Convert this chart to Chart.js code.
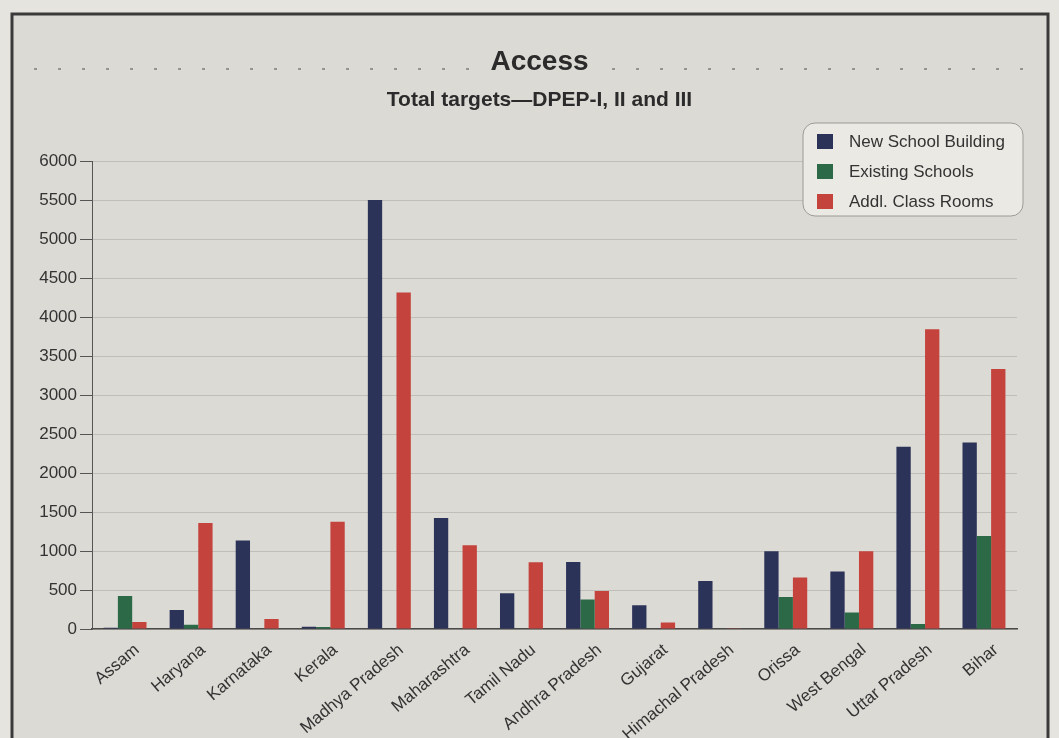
<!DOCTYPE html>
<html>
<head>
<meta charset="utf-8">
<script src="https://cdn.jsdelivr.net/npm/chart.js@4"></script>
<style>
  html, body { margin: 0; padding: 0; background: #e6e4df; }
  #wrap { position: absolute; left: 0; top: 0; width: 1059px; height: 738px; }
</style>
</head>
<body>
<div id="wrap"><canvas id="chart"></canvas></div>
<script>
const categories = ['Assam', 'Haryana', 'Karnataka', 'Kerala', 'Madhya Pradesh', 'Maharashtra', 'Tamil Nadu',
  'Andhra Pradesh', 'Gujarat', 'Himachal Pradesh', 'Orissa', 'West Bengal', 'Uttar Pradesh', 'Bihar'];
const newSchoolBuilding = [15, 245, 1135, 30, 5510, 1425, 460, 860, 305, 615, 1000, 740, 2340, 2395];
const existingSchools = [425, 55, 0, 25, 0, 0, 0, 380, 0, 0, 410, 212, 64, 1195];
const addlClassRooms = [90, 1360, 128, 1378, 4320, 1075, 856, 488, 85, 10, 662, 1000, 3850, 3340];
const seriesNames = ['New School Building', 'Existing Schools', 'Addl. Class Rooms'];
const seriesColors = ['#2c3358', '#2c6a47', '#c4433c'];

const FONT = "'Liberation Sans', Arial, sans-serif";
const canvasElement = document.getElementById('chart');

// frame, dotted rule and background
const framePlugin = {
  id: 'frame',
  beforeDraw(chart) {
    const ctx = chart.ctx;
    ctx.save();
    ctx.fillStyle = '#e6e4df';
    ctx.fillRect(0, 0, chart.width, chart.height);
    ctx.fillStyle = '#dcdad5';
    ctx.fillRect(12, 14, 1036, 740);
    ctx.strokeStyle = '#3a3a3a';
    ctx.lineWidth = 3;
    ctx.strokeRect(12, 14, 1036, 740);
    // dotted rule behind the title
    ctx.strokeStyle = '#7e7c78';
    ctx.lineWidth = 1.5;
    ctx.setLineDash([3, 21]);
    ctx.beginPath();
    ctx.moveTo(34, 69); ctx.lineTo(470, 69);
    ctx.moveTo(612, 69); ctx.lineTo(1040, 69);
    ctx.stroke();
    ctx.restore();
  },
  afterDraw(chart) {
    // legend box inside the plot
    const ctx = chart.ctx;
    ctx.save();
    const x = 803, y = 123, w = 220, h = 93, r = 12;
    ctx.beginPath();
    ctx.roundRect(x, y, w, h, r);
    ctx.fillStyle = '#ebe9e4';
    ctx.fill();
    ctx.strokeStyle = '#9c9a95';
    ctx.lineWidth = 1;
    ctx.stroke();
    ctx.font = '17px ' + FONT;
    ctx.textBaseline = 'middle';
    chart.data.datasets.forEach((ds, i) => {
      const cy = 141 + i * 30;
      ctx.fillStyle = ds.backgroundColor;
      ctx.fillRect(817, cy - 7, 16, 15);
      ctx.fillStyle = '#333';
      ctx.fillText(ds.label, 849, cy + 1);
    });
    ctx.restore();
  }
};

new Chart(canvasElement, {
  type: 'bar',
  data: {
    labels: categories,
    datasets: [
      { label: seriesNames[0], data: newSchoolBuilding, backgroundColor: seriesColors[0] },
      { label: seriesNames[1], data: existingSchools, backgroundColor: seriesColors[1] },
      { label: seriesNames[2], data: addlClassRooms, backgroundColor: seriesColors[2] }
    ]
  },
  options: {
    responsive: true,
    maintainAspectRatio: false,
    animation: false,
    layout: { padding: { top: 30, left: 20, right: 0, bottom: 0 } },
    datasets: { bar: { categoryPercentage: 0.65, barPercentage: 1.0 } },
    plugins: {
      legend: { display: false },
      tooltip: { enabled: false },
      title: {
        display: true,
        text: 'Access',
        color: '#2b2b2b',
        font: { family: FONT, size: 28, weight: 'bold' },
        padding: { top: 15, bottom: 9 }
      },
      subtitle: {
        display: true,
        text: 'Total targets\u2014DPEP-I, II and III',
        color: '#2b2b2b',
        font: { family: FONT, size: 21, weight: 'bold' },
        padding: { top: 0, bottom: 49 }
      }
    },
    scales: {
      x: {
        afterFit(scale) { scale.height = 109; },
        grid: { display: false },
        border: { color: '#4a4a4a', width: 1.5 },
        ticks: {
          autoSkip: false,
          maxRotation: 40,
          minRotation: 40,
          labelOffset: 12,
          color: '#333',
          font: { family: FONT, size: 17 }
        }
      },
      y: {
        min: 0,
        max: 6000,
        afterFit(scale) { scale.width = 72; },
        border: { color: '#555', width: 1 },
        grid: { color: 'rgba(140,138,132,0.35)', tickColor: '#555', tickLength: 12 },
        ticks: {
          stepSize: 500,
          padding: 3,
          color: '#333',
          font: { family: FONT, size: 17 },
          callback: (value) => String(value)
        }
      },
      spacer: {
        position: 'right',
        grid: { display: false },
        border: { display: false },
        ticks: { display: false },
        afterFit(scale) { scale.width = 42; }
      }
    }
  },
  plugins: [framePlugin]
});
</script>
</body>
</html>
